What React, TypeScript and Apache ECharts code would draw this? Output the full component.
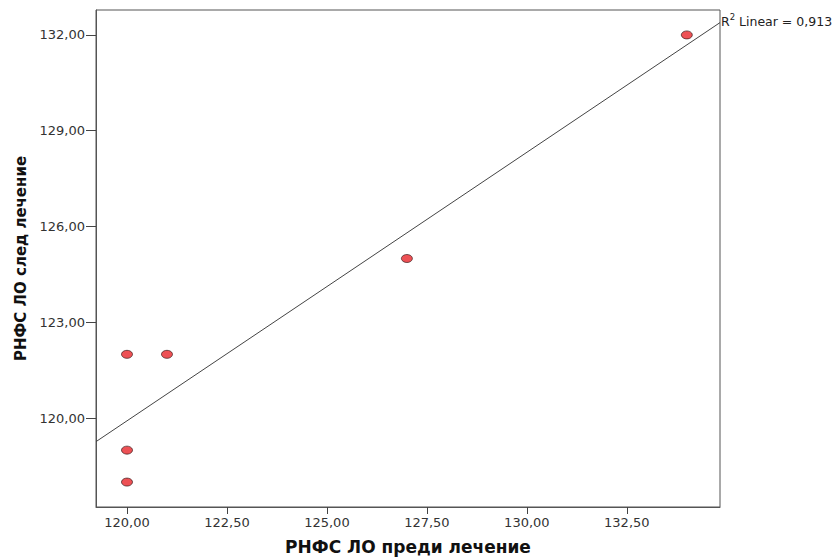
import React, { useEffect, useRef } from "react";
import * as echarts from "echarts";

const xValues = [120, 121, 120, 120, 127, 134];
const yValues = [122, 122, 119, 118, 125, 132];
const xTicks = [120, 122.5, 125, 127.5, 130, 132.5];
const yTicks = [120, 123, 126, 129, 132];
const r2Label = "0,913";
const xTitle = "РНФС ЛО преди лечение";
const yTitle = "РНФС ЛО след лечение";

const X_MIN = 119.225;
const X_MAX = 134.83;
const Y_MIN = 117.22;
const Y_MAX = 132.78;

function fit(xs: number[], ys: number[]) {
  const n = xs.length;
  const mx = xs.reduce((a, b) => a + b, 0) / n;
  const my = ys.reduce((a, b) => a + b, 0) / n;
  let sxy = 0;
  let sxx = 0;
  for (let i = 0; i < n; i++) {
    sxy += (xs[i] - mx) * (ys[i] - my);
    sxx += (xs[i] - mx) * (xs[i] - mx);
  }
  const b = sxy / sxx;
  return { a: my - b * mx, b };
}

const fmt = (v: number) => v.toFixed(2).replace(".", ",");

export default function App() {
  const ref = useRef<HTMLDivElement>(null);
  useEffect(() => {
    if (!ref.current) return;
    const chart = echarts.init(ref.current, undefined, { renderer: "svg" });
    const { a, b } = fit(xValues, yValues);
    const lineData = [
      [X_MIN, a + b * X_MIN],
      [X_MAX, a + b * X_MAX],
    ];
    const font = "'DejaVu Sans', 'Liberation Sans', Arial, sans-serif";
    chart.setOption({
      animation: false,
      backgroundColor: "#ffffff",
      textStyle: { fontFamily: font },
      grid: {
        left: 96,
        right: 118,
        top: 10,
        bottom: 53,
        show: true,
        borderColor: "#555555",
        borderWidth: 1,
        backgroundColor: "transparent",
      },
      xAxis: {
        type: "value",
        min: X_MIN,
        max: X_MAX,
        name: xTitle,
        nameLocation: "middle",
        nameGap: 31,
        nameTextStyle: { fontSize: 17, fontWeight: "bold", color: "#111", fontFamily: font },
        axisLine: { show: true, lineStyle: { color: "#555555" } },
        axisTick: { show: true, length: 7, customValues: xTicks, lineStyle: { color: "#444" } },
        axisLabel: {
          customValues: xTicks,
          formatter: (v: number) => fmt(v),
          fontSize: 13,
          color: "#333",
          margin: 9,
          fontFamily: font,
        },
        splitLine: { show: false },
      },
      yAxis: {
        type: "value",
        min: Y_MIN,
        max: Y_MAX,
        name: yTitle,
        nameLocation: "middle",
        nameGap: 68,
        nameRotate: 90,
        nameTextStyle: { fontSize: 15, fontWeight: "bold", color: "#111", fontFamily: font },
        axisLine: { show: true, lineStyle: { color: "#555555" } },
        axisTick: { show: true, length: 10, customValues: yTicks, lineStyle: { color: "#444" } },
        axisLabel: {
          customValues: yTicks,
          formatter: (v: number) => fmt(v),
          fontSize: 13,
          color: "#333",
          margin: 11,
          fontFamily: font,
        },
        splitLine: { show: false },
      },
      series: [
        {
          type: "line",
          data: lineData,
          symbol: "none",
          lineStyle: { color: "#444444", width: 1 },
          silent: true,
          z: 1,
        },
        {
          type: "scatter",
          data: xValues.map((x, i) => [x, yValues[i]]),
          symbol: "circle",
          symbolSize: [11, 8],
          itemStyle: { color: "#e8262b", borderColor: "#2a1010", borderWidth: 0.8 },
          z: 3,
        },
      ],
      graphic: [
        {
          type: "text",
          left: 721,
          top: 12,
          style: {
            text: "{r|R}{s|2}{r| Linear = " + r2Label + "}",
            rich: {
              r: { fontSize: 12.5, fill: "#222", fontFamily: font, verticalAlign: "bottom", lineHeight: 16 },
              s: { fontSize: 8.5, fill: "#222", fontFamily: font, verticalAlign: "top", lineHeight: 16, padding: [0, 0, 7, 0] },
            },
          },
        },
      ],
    });
    return () => chart.dispose();
  }, []);
  return (
    <div
      ref={ref}
      style={{ position: "absolute", left: 0, top: 0, width: 838, height: 560 }}
    />
  );
}
